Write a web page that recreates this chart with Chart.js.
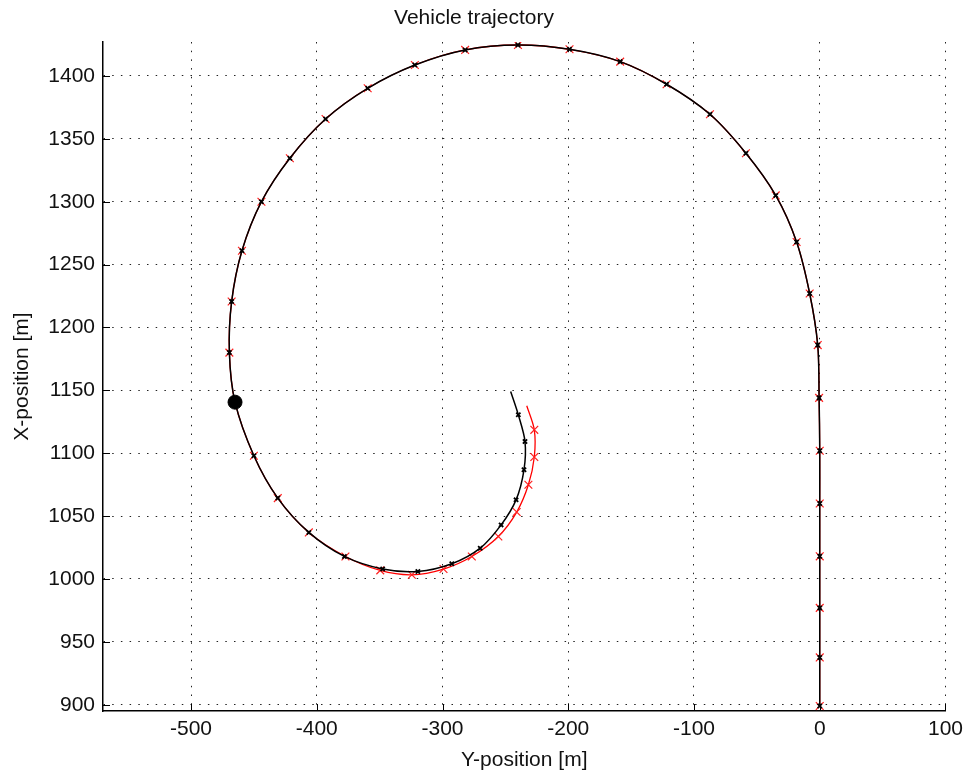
<!DOCTYPE html>
<html>
<head>
<meta charset="utf-8">
<script src="https://cdn.jsdelivr.net/npm/chart.js@4.4.1/dist/chart.umd.min.js"></script>
<style>
  html, body { margin: 0; padding: 0; background: #fff; }
  #wrap { width: 969px; height: 776px; }
</style>
</head>
<body>
<div id="wrap"><canvas id="chart"></canvas></div>
<script>
// true trajectory (horizontal axis = Y-position, vertical axis = X-position)
const trueYPos = [0, 0, 0, 0, 0, 0, -0.5, -1.6, -8, -18.4, -35, -58.7, -87.3, -121.8, -158.7, -199, -240, -282, -322, -359.5,
  -393, -421.4, -444, -459.5, -467.7, -469.5, -465, -450, -431, -406.3, -378, -347.6, -319.6, -292.6, -270, -253.4,
  -241.5, -235.2, -234.4, -239.7, -245.8];
const trueXPos = [899, 937.6, 977, 1018, 1060, 1102, 1144, 1186, 1227, 1268, 1305, 1338.5, 1369.5, 1393.4, 1411.4, 1421.2,
  1424.6, 1420.7, 1408.7, 1390.2, 1365.8, 1334.6, 1300, 1261, 1220.6, 1180, 1140.6, 1098, 1064.3, 1037, 1017.9,
  1007.9, 1006, 1012.1, 1024.5, 1043, 1062.9, 1086.8, 1109.3, 1130.5, 1149.1];

// estimated trajectory
const estYPos = [0, 0, 0, 0, 0, 0, -0.5, -1.6, -8, -18.4, -35, -58.7, -87.3, -121.8, -158.7, -199, -240, -282, -322, -359.5,
  -393, -421.4, -444, -459.5, -467.7, -469.5, -465, -450, -431, -406.3, -377.2, -349.5, -324.4, -299.2, -276.7, -255.6,
  -241, -231.7, -227, -227, -233];
const estXPos = [899, 937.6, 977, 1018, 1060, 1102, 1144, 1186, 1227, 1268, 1305, 1338.5, 1369.5, 1393.4, 1411.4, 1421.2,
  1424.6, 1420.7, 1408.7, 1390.2, 1365.8, 1334.6, 1300, 1261, 1220.6, 1180, 1140.6, 1098, 1064.3, 1037, 1017.9,
  1006.8, 1003.3, 1007.9, 1017.9, 1033.8, 1053.2, 1074.9, 1097, 1118.6, 1137.7];

// current position
const dotYPos = [-465];
const dotXPos = [1140.6];

const xTicks = [-500, -400, -300, -200, -100, 0, 100];
const yTicks = [900, 950, 1000, 1050, 1100, 1150, 1200, 1250, 1300, 1350, 1400];

const toPoints = (xs, ys) => xs.map((v, i) => ({ x: v, y: ys[i] }));

// MATLAB style inward tick marks on left and bottom axes
const inwardTicks = {
  id: 'inwardTicks',
  afterDraw(chart) {
    const { ctx, chartArea } = chart;
    const xs = chart.scales.x, ys = chart.scales.y;
    ctx.save();
    ctx.strokeStyle = '#000';
    ctx.lineWidth = 1;
    ctx.beginPath();
    yTicks.forEach(v => {
      const py = Math.round(ys.getPixelForValue(v)) + 0.5;
      ctx.moveTo(chartArea.left, py);
      ctx.lineTo(chartArea.left + 7, py);
    });
    xTicks.forEach(v => {
      const px = Math.round(xs.getPixelForValue(v)) + 0.5;
      ctx.moveTo(px, chartArea.bottom);
      ctx.lineTo(px, chartArea.bottom - 7);
    });
    ctx.stroke();
    ctx.restore();
  }
};

const font = { family: "'Liberation Sans', Arial, sans-serif", size: 21 };
const gridStyle = { color: '#222', lineWidth: 1, drawTicks: false };
const borderStyle = { display: true, color: '#000', width: 1.5, dash: [1.5, 7.2] };

const lastNoMarker = (n, r) => ctx => (ctx.dataIndex === n - 1 ? 0 : r);

new Chart(document.getElementById('chart').getContext('2d'), {
  type: 'scatter',
  data: {
    datasets: [
      {
        data: toPoints(dotYPos, dotXPos),
        backgroundColor: '#000',
        borderColor: '#000',
        pointRadius: 7,
        pointStyle: 'circle',
        showLine: false,
        order: 0
      },
      {
        data: toPoints(trueYPos, trueXPos),
        showLine: true,
        borderColor: '#000',
        borderWidth: 1.5,
        tension: 0.3,
        pointStyle: 'crossRot',
        pointRadius: lastNoMarker(trueYPos.length, 3),
        pointBorderColor: '#000',
        pointBorderWidth: 1.8,
        order: 1
      },
      {
        data: toPoints(estYPos, estXPos),
        showLine: true,
        borderColor: '#ff0000',
        borderWidth: 1.3,
        tension: 0.3,
        pointStyle: 'crossRot',
        pointRadius: lastNoMarker(estYPos.length, 5.5),
        pointBorderColor: '#ff2020',
        pointBorderWidth: 1.2,
        order: 2
      }
    ]
  },
  options: {
    responsive: true,
    maintainAspectRatio: false,
    animation: false,
    layout: { padding: { left: 0, right: 21, top: 0, bottom: 0 } },
    plugins: {
      legend: { display: false },
      tooltip: { enabled: false },
      title: {
        display: true,
        text: 'Vehicle trajectory',
        color: '#111',
        font: { ...font, weight: 'normal' },
        padding: { top: 6, bottom: 10.8 }
      }
    },
    scales: {
      x: {
        type: 'linear',
        min: -570,
        max: 100,
        afterBuildTicks: s => { s.ticks = xTicks.map(v => ({ value: v })); },
        afterFit: s => { s.height = 65; },
        grid: gridStyle,
        border: borderStyle,
        ticks: { color: '#111', font, padding: 6, maxRotation: 0, callback: v => String(v) },
        title: {
          display: true,
          text: 'Y-position [m]',
          color: '#111',
          font,
          padding: { top: 0, bottom: 3.4 }
        }
      },
      y: {
        type: 'linear',
        min: 895,
        max: 1427,
        afterBuildTicks: s => { s.ticks = yTicks.map(v => ({ value: v })); },
        afterFit: s => { s.width = 103; },
        grid: gridStyle,
        border: borderStyle,
        ticks: { color: '#111', font, padding: 8, callback: v => String(v) },
        title: {
          display: true,
          text: 'X-position [m]',
          color: '#111',
          font,
          padding: { top: 9.4, bottom: 0 }
        }
      }
    }
  },
  plugins: [inwardTicks]
});
</script>
</body>
</html>
